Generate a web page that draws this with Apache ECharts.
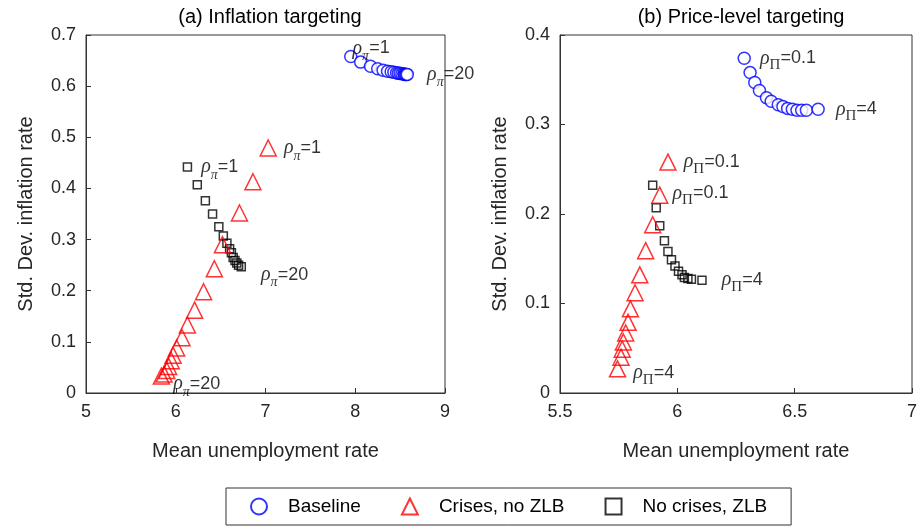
<!DOCTYPE html>
<html><head><meta charset="utf-8">
<script src="https://cdn.jsdelivr.net/npm/echarts@6/dist/echarts.min.js"></script>
<style>html,body{margin:0;background:#fff}#c{width:924px;height:529px}</style>
</head><body><div id="c"></div>
<script>
// (a) Inflation targeting: [mean unemployment, std dev inflation]
var baseA = [[7.95,0.658],[8.06,0.647],[8.17,0.639],[8.25,0.634],[8.31,0.631],[8.36,0.629],[8.40,0.628],[8.43,0.627],[8.46,0.626],[8.48,0.625],[8.50,0.625],[8.52,0.624],[8.54,0.624],[8.55,0.623],[8.56,0.623],[8.57,0.623],[8.58,0.623]];
var crisesA = [[7.03,0.479],[6.86,0.413],[6.71,0.352],[6.52,0.290],[6.43,0.243],[6.31,0.198],[6.21,0.162],[6.13,0.133],[6.07,0.108],[6.01,0.088],[5.97,0.074],[5.95,0.063],[5.92,0.052],[5.90,0.044],[5.87,0.037],[5.84,0.033]];
var zlbA = [[6.13,0.442],[6.24,0.407],[6.33,0.376],[6.41,0.350],[6.48,0.325],[6.53,0.307],[6.57,0.293],[6.60,0.282],[6.62,0.274],[6.64,0.265],[6.66,0.259],[6.68,0.254],[6.70,0.250],[6.73,0.247]];
// (b) Price-level targeting
var baseB = [[6.285,0.374],[6.31,0.358],[6.33,0.347],[6.35,0.338],[6.38,0.330],[6.40,0.326],[6.43,0.322],[6.45,0.320],[6.47,0.318],[6.49,0.317],[6.51,0.316],[6.53,0.316],[6.55,0.316],[6.60,0.317]];
var crisesB = [[5.96,0.258],[5.925,0.221],[5.895,0.188],[5.865,0.159],[5.84,0.132],[5.82,0.112],[5.80,0.094],[5.79,0.079],[5.78,0.067],[5.77,0.057],[5.765,0.049],[5.76,0.040],[5.745,0.027]];
var zlbB = [[5.895,0.232],[5.91,0.207],[5.925,0.187],[5.945,0.170],[5.96,0.158],[5.975,0.149],[5.99,0.142],[6.005,0.136],[6.02,0.132],[6.03,0.129],[6.045,0.128],[6.06,0.127],[6.105,0.126]];
var seriesNames = ['Baseline','Crises, no ZLB','No crises, ZLB'];

var font = 'Liberation Sans';
var rich = {
  r:{fontFamily:'Liberation Serif',fontStyle:'italic',fontSize:20,color:'#000'},
  s:{fontFamily:'Liberation Serif',fontStyle:'italic',fontSize:14,color:'#000',padding:[16,0,0,0]},
  S:{fontFamily:'Liberation Serif',fontSize:15,color:'#000',padding:[14,0,0,0]},
  t:{fontFamily:font,fontSize:18,color:'#000'}
};
function lab(sub, val, off){
  return {show:true, position:'right', offset:off||[0,0],
    formatter:'{r|ρ}{'+sub+'|'+(sub==='s'?'π':'Π')+'}{t|='+val+'}', rich:rich};
}
function mark(arr, first, last){
  return arr.map(function(p,i){
    var o = {value:p};
    if(i===0 && first) o.label = first;
    if(i===arr.length-1 && last) o.label = last;
    return o;
  });
}
var styles = [
  {symbol:'circle',symbolSize:12,itemStyle:{color:'#fff',borderColor:'#0000ff',borderWidth:1.5}},
  {symbol:'triangle',symbolSize:16,itemStyle:{color:'rgba(0,0,0,0)',borderColor:'#ff0000',borderWidth:1.5}},
  {symbol:'rect',symbolSize:8,itemStyle:{color:'rgba(0,0,0,0)',borderColor:'#000',borderWidth:1.5}}
];
function ser(i, gi, data){
  return Object.assign({name:seriesNames[i],type:'scatter',xAxisIndex:gi,yAxisIndex:gi,data:data,z:3-i+2}, styles[i]);
}
var axisCommon = {axisLine:{lineStyle:{color:'#333'}},axisTick:{inside:true,length:5,lineStyle:{color:'#333'}},
  splitLine:{show:false},axisLabel:{color:'#262626',fontFamily:font,fontSize:18,margin:10},
  nameTextStyle:{color:'#262626',fontFamily:font,fontSize:20}};
function xa(gi,min,max,iv){return Object.assign({type:'value',gridIndex:gi,min:min,max:max,interval:iv,
  name:'Mean unemployment rate',nameLocation:'middle',nameGap:48},axisCommon);}
function ya(gi,max,iv){return Object.assign({type:'value',gridIndex:gi,min:0,max:max,interval:iv,
  name:'Std. Dev. inflation rate',nameLocation:'middle',nameGap:50},axisCommon);}

var chart = echarts.init(document.getElementById('c'));
chart.setOption({
  animation:false,
  title:[
    {text:'(a) Inflation targeting',left:265,top:2,textAlign:'center',textStyle:{fontFamily:font,fontSize:20,fontWeight:'normal',color:'#000'}},
    {text:'(b) Price-level targeting',left:736,top:2,textAlign:'center',textStyle:{fontFamily:font,fontSize:20,fontWeight:'normal',color:'#000'}}
  ],
  grid:[
    {left:86,right:479,top:35,bottom:136,show:true,borderColor:'#333',borderWidth:1},
    {left:560,right:12,top:35,bottom:136,show:true,borderColor:'#333',borderWidth:1}
  ],
  xAxis:[xa(0,5,9,1),xa(1,5.5,7,0.5)],
  yAxis:[ya(0,0.7,0.1),ya(1,0.4,0.1)],
  legend:{data:seriesNames,bottom:4,left:226,itemGap:40,itemWidth:16,itemHeight:16,
    padding:[9,24,9,24],borderColor:'#333',borderWidth:1,
    textStyle:{fontFamily:font,fontSize:19,color:'#000',padding:[0,0,0,16]}},
  series:[
    ser(0,0,mark(baseA,lab('s','1',[-10,-8]),lab('s','20',[8,0]))),
    ser(1,0,mark(crisesA,lab('s','1',[2,0]),lab('s','20',[-2,8]))),
    ser(2,0,mark(zlbA,lab('s','1',[4,0]),lab('s','20',[10,8]))),
    ser(0,1,mark(baseB,lab('S','0.1',[4,0]),lab('S','4',[6,0]))),
    ser(1,1,mark(crisesB,lab('S','0.1',[2,0]),lab('S','4',[2,4]))),
    ser(2,1,mark(zlbB,lab('S','0.1',[10,8]),lab('S','4',[10,0])))
  ]
});
</script></body></html>
